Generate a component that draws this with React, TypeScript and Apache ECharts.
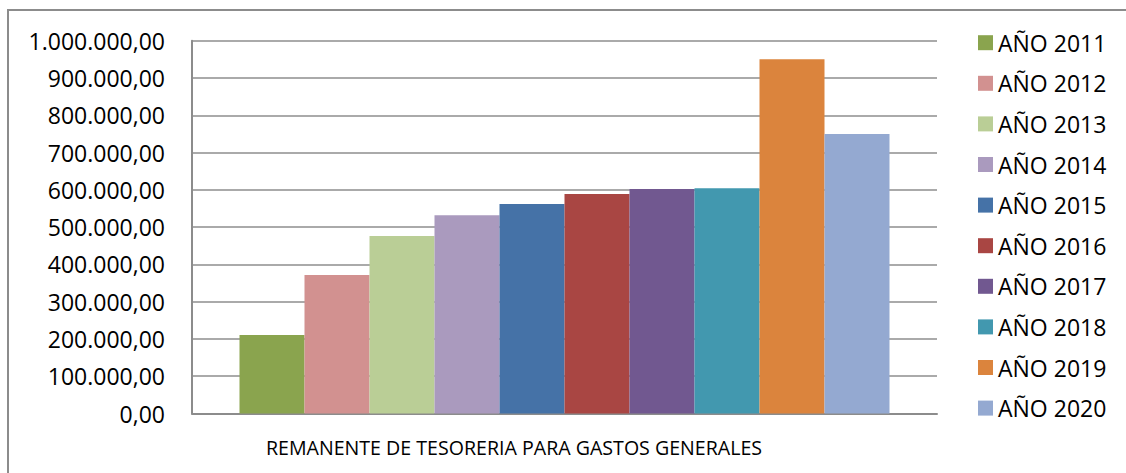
import React, { useEffect, useRef } from "react";
import * as echarts from "echarts";

const categories = ["REMANENTE DE TESORERIA PARA GASTOS GENERALES"];
const seriesNames = [
  "AÑO 2011", "AÑO 2012", "AÑO 2013", "AÑO 2014", "AÑO 2015",
  "AÑO 2016", "AÑO 2017", "AÑO 2018", "AÑO 2019", "AÑO 2020",
];
const seriesValues = [
  210500, 371300, 476000, 532000, 562000,
  588500, 602000, 604500, 950500, 749500,
];
const seriesColors = [
  "#8AA44E", "#D29190", "#BACE96", "#AA9ABE", "#4572A7",
  "#A94643", "#715890", "#4298AF", "#DB843D", "#94A9D1",
];

const fmt = (v: number) =>
  Math.round(v).toString().replace(/\B(?=(\d{3})+(?!\d))/g, ".") + ",00";

export default function App() {
  const ref = useRef<HTMLDivElement>(null);
  useEffect(() => {
    if (!ref.current) return;
    const chart = echarts.init(ref.current, null, { renderer: "svg" });
    const font = "'Open Sans', sans-serif";
    chart.setOption({
      animation: false,
      backgroundColor: "#ffffff",
      textStyle: { fontFamily: font, color: "#000" },
      graphic: [
        {
          type: "rect",
          shape: { x: 8, y: 10, width: 1130, height: 480 },
          style: { fill: "none", stroke: "#8c8c8c", lineWidth: 2 },
          silent: true,
        },
      ],
      grid: { left: 192, right: 189, top: 40.7, bottom: 59.5, containLabel: false },
      legend: {
        orient: "vertical",
        left: 973,
        top: 25.7,
        itemWidth: 15,
        itemHeight: 15,
        itemGap: 16.6,
        icon: "rect",
        data: seriesNames,
        textStyle: { fontFamily: font, fontSize: 23, lineHeight: 24, color: "#000" },
      },
      xAxis: {
        type: "category",
        data: categories,
        axisLine: { show: true, lineStyle: { color: "#8c8c8c", width: 2 } },
        axisTick: { show: false },
        axisLabel: {
          margin: 22,
          fontFamily: font,
          fontSize: 19.6,
          lineHeight: 24,
          color: "#000",
          padding: [0, 101, 0, 0],
        },
      },
      yAxis: {
        type: "value",
        min: 0,
        max: 1000000,
        interval: 100000,
        axisLine: { show: true, lineStyle: { color: "#8c8c8c", width: 2 } },
        axisTick: { show: false },
        splitLine: { show: true, lineStyle: { color: "#8e8e8e", width: 1.5 } },
        axisLabel: {
          margin: 27,
          fontFamily: font,
          fontSize: 23,
          color: "#000",
          formatter: (v: number) => fmt(v),
        },
      },
      series: seriesNames.map((name, i) => ({
        name,
        type: "bar",
        data: [seriesValues[i]],
        barGap: "0%",
        barCategoryGap: "12.75%",
        itemStyle: { color: seriesColors[i] },
      })),
    });
    return () => chart.dispose();
  }, []);
  return <div ref={ref} style={{ width: 1126, height: 473, position: "absolute", left: 0, top: 0 }} />;
}
